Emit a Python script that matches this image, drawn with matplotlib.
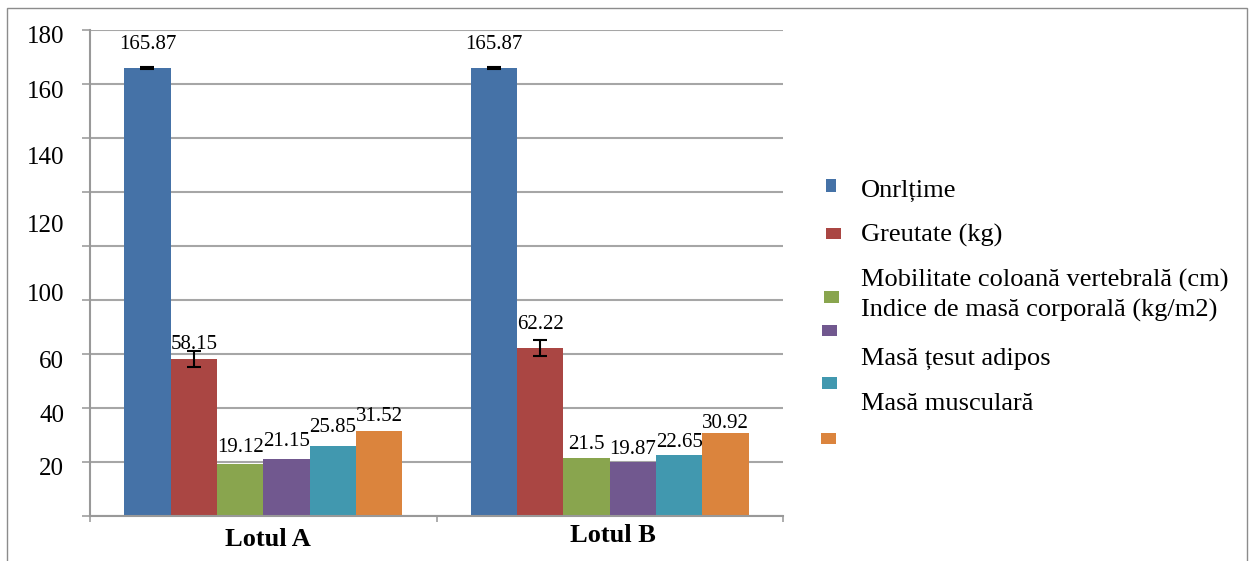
import matplotlib
matplotlib.use("Agg")
import matplotlib.pyplot as plt
from matplotlib.patches import Rectangle

groups = ["Lotul A", "Lotul B"]
series = [
    "Onrlțime",
    "Greutate (kg)",
    "Mobilitate coloană vertebrală (cm)",
    "Indice de masă corporală (kg/m2)",
    "Masă țesut adipos",
    "Masă musculară",
]
lotul_a = [165.87, 58.15, 19.12, 21.15, 25.85, 31.52]
lotul_b = [165.87, 62.22, 21.5, 19.87, 22.65, 30.92]
err_a = [0.3, 3.0, 0, 0, 0, 0]
err_b = [0.3, 3.1, 0, 0, 0, 0]

# the y tick labels in the original sit off their gridlines
ytick_text = ["180", "160", "140", "120", "100", "60", "40", "20"]
ytick_text_pos = [178.4, 158.1, 133.4, 108.5, 82.8, 58.1, 38.0, 18.3]

colors = ["#4572A7", "#AA4643", "#89A54E", "#71588F", "#4198AF", "#DB843D"]
# label height above bar top, pixels (per group, per series)
label_nudge = [[24, 14, 17, 17, 19, 14], [24, 24, 13, 13, 12, 9]]

W, H = 1250, 561
SERIF = ["Liberation Serif", "DejaVu Serif"]
GRAY = "#a6a6a6"


def fx(px):
    return px / W


def fy(py):
    return 1 - py / H


def main():
    plt.rcParams["font.family"] = SERIF
    fig = plt.figure(figsize=(12.5, 5.61), dpi=100)
    ax = fig.add_axes([fx(90), fy(516), fx(783) - fx(90), fy(30) - fy(516)])

    n = len(series)
    width = 0.802 / n
    for i in range(n):
        xs = [g + (i - (n - 1) / 2) * width for g in range(len(groups))]
        vals = [lotul_a[i], lotul_b[i]]
        errs = [err_a[i], err_b[i]]
        kw = {}
        if any(errs):
            kw = dict(yerr=errs, capsize=5,
                      error_kw=dict(elinewidth=1.5, capthick=1.5, ecolor="black"))
        ax.bar(xs, vals, width=width, color=colors[i], zorder=2, **kw)
        for g, (x, v) in enumerate(zip(xs, vals)):
            ax.annotate(f"{v:g}", xy=(x, v), xytext=(0, label_nudge[g][i] * 0.72),
                        textcoords="offset points", ha="center", va="center",
                        fontsize=15, zorder=4)

    ax.set_xlim(-0.5, len(groups) - 0.5)
    ax.set_ylim(0, 180)

    ax.set_yticks(range(0, 181, 20))
    ax.set_yticklabels([])
    ax.set_yticks(ytick_text_pos, ytick_text, minor=True)
    ax.tick_params(axis="y", which="major", length=6, width=1.3, color=GRAY)
    ax.tick_params(axis="y", which="minor", length=0, pad=18.5, labelsize=18)

    ax.set_xticks([-0.5, 0.5, 1.5])
    ax.set_xticklabels([])
    ax.tick_params(axis="x", which="major", length=4.5, width=1.3, color=GRAY)

    ax.yaxis.grid(True, which="major", color=GRAY, linewidth=1.5)
    ax.set_axisbelow(True)
    for s in ["top", "right"]:
        ax.spines[s].set_visible(False)
    for s in ["left", "bottom"]:
        ax.spines[s].set_color("#999999")
        ax.spines[s].set_linewidth(1.5)

    # category names (the two sit at slightly different heights in the original)
    fig.text(fx(268), fy(540), groups[0], ha="center", va="center",
             fontsize=19, fontweight="bold")
    fig.text(fx(613), fy(535), groups[1], ha="center", va="center",
             fontsize=19, fontweight="bold")

    # legend, drawn by hand because swatches and texts are misaligned
    swatches = [(826, 179, 10, 13), (826, 228, 15, 11), (824, 291, 15, 12),
                (822, 325, 15, 11), (822, 377, 15, 12), (821, 433, 15, 11)]
    baselines = [197, 242, 287, 317, 365, 410]
    for i in range(n):
        x0, y0, w, h = swatches[i]
        fig.add_artist(Rectangle((fx(x0), fy(y0 + h)), w / W, h / H,
                                 transform=fig.transFigure, color=colors[i], lw=0))
        fig.text(fx(861), fy(baselines[i]), series[i], ha="left", va="baseline",
                 fontsize=19)

    # outer chart frame
    fig.add_artist(Rectangle((fx(7), -0.05), fx(1247) - fx(7), fy(8) + 0.05,
                             transform=fig.transFigure, fill=False,
                             edgecolor="#8c8c8c", lw=1.0))

    fig.savefig("out.png", dpi=100)
    plt.close(fig)


if __name__ == "__main__":
    main()
